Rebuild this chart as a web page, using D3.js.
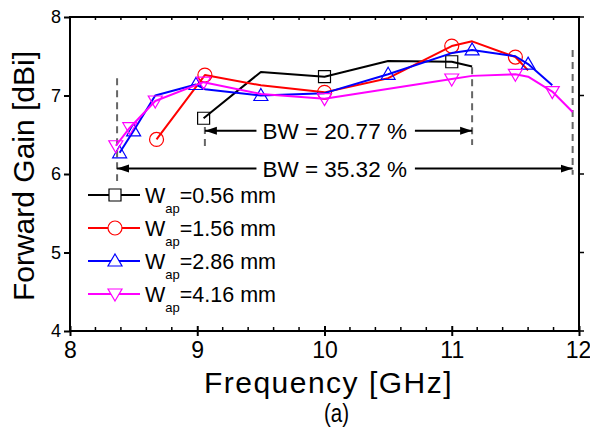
<!DOCTYPE html>
<html>
<head>
<meta charset="utf-8">
<script src="https://cdn.jsdelivr.net/npm/d3@7"></script>
<style>
  body { margin: 0; background: #fff; }
  text { font-family: "Liberation Sans", Arial, sans-serif; }
</style>
</head>
<body>
<div id="chart"></div>
<script>
// values
var freqAxisTicks = [8, 9, 10, 11, 12];
var gainAxisTicks = [4, 5, 6, 7, 8];

var seriesNames = ["0.56 mm", "1.56 mm", "2.86 mm", "4.16 mm"];

var freq056 = [9.05, 9.5, 10, 10.5, 11, 11.16];
var gain056 = [6.71, 7.30, 7.24, 7.44, 7.43, 7.37];
var mark056 = [0, 2, 4];

var freq156 = [8.68, 9.06, 9.5, 10, 10.5, 11, 11.16, 11.5, 11.6];
var gain156 = [6.44, 7.26, 7.13, 7.04, 7.22, 7.63, 7.69, 7.49, 7.32];
var mark156 = [0, 1, 3, 5, 7];

var freq286 = [8.39, 8.5, 8.67, 8.99, 9.06, 9.5, 10, 10.5, 11, 11.16, 11.5, 11.6, 11.79];
var gain286 = [6.27, 6.55, 7.0, 7.14, 7.08, 7.0, 7.03, 7.27, 7.54, 7.58, 7.50, 7.40, 7.13];
var mark286 = [0, 1, 3, 5, 7, 9, 11];

var freq416 = [8.36, 8.47, 8.67, 9.05, 9.5, 10, 11, 11.16, 11.5, 11.6, 11.79, 11.95];
var gain416 = [6.36, 6.59, 6.93, 7.17, 7.02, 6.96, 7.21, 7.25, 7.27, 7.24, 7.05, 6.79];
var mark416 = [0, 1, 2, 3, 5, 6, 8, 10];

// bandwidth annotations
var bwLabels = ["BW = 20.77 %", "BW = 35.32 %"];
var bwStart = [9.06, 8.37];
var bwEnd = [11.16, 11.95];
var bwGain = [6.55, 6.07];
// dashed guide lines: frequency, top gain, bottom gain
var guideFreq = [8.37, 9.06, 11.16, 11.95];
var guideTop = [7.22, 6.60, 7.36, 7.58];
var guideBottom = [5.91, 6.30, 6.37, 5.99];

var W = 590, H = 434;
var margin = {top: 17, right: 11, bottom: 103, left: 70};
var width = W - margin.left - margin.right,
    height = H - margin.top - margin.bottom;

var x = d3.scaleLinear().domain([8, 12]).range([0, width]);
var y = d3.scaleLinear().domain([4, 8]).range([height, 0]);

var svg = d3.select("#chart").append("svg")
    .attr("width", W).attr("height", H)
  .append("g")
    .attr("transform", "translate(" + margin.left + "," + margin.top + ")");

// frame
svg.append("rect")
    .attr("width", width).attr("height", height)
    .attr("fill", "none").attr("stroke", "#000").attr("stroke-width", 2);

// bottom axis: major ticks + minor ticks inside
var xMinor = d3.range(8, 12.001, 0.2).filter(function(v) { return Math.abs(v - Math.round(v)) > 0.01; });
var xAxis = d3.axisBottom(x).tickValues(freqAxisTicks).tickSize(5).tickPadding(6).tickFormat(d3.format("d"));
var gx = svg.append("g").attr("transform", "translate(0," + height + ")").call(xAxis);
gx.select(".domain").remove();
gx.selectAll(".tick line").attr("stroke-width", 2).attr("y1", -5);
gx.selectAll(".tick text").style("font-size", "23px").attr("fill", "#000")
    .attr("dx", function(d) { return d === 12 ? -1 : 0; });
svg.append("g").selectAll("line").data(xMinor).join("line")
    .attr("x1", x).attr("x2", x).attr("y1", height).attr("y2", height - 4)
    .attr("stroke", "#000").attr("stroke-width", 1.5);

// top axis mirror ticks
svg.append("g").selectAll("line").data(xMinor.concat(freqAxisTicks)).join("line")
    .attr("x1", x).attr("x2", x).attr("y1", 0).attr("y2", 3)
    .attr("stroke", "#000").attr("stroke-width", 1.5);

// left axis
var yAxis = d3.axisLeft(y).tickValues(gainAxisTicks).tickSize(6).tickPadding(3).tickFormat(d3.format("d"));
var gy = svg.append("g").call(yAxis);
gy.select(".domain").remove();
gy.selectAll(".tick line").attr("stroke-width", 2);
gy.selectAll(".tick text").style("font-size", "18px").attr("fill", "#000");

// right axis mirror ticks
svg.append("g").selectAll("line").data(gainAxisTicks).join("line")
    .attr("x1", width).attr("x2", width + 5).attr("y1", y).attr("y2", y)
    .attr("stroke", "#000").attr("stroke-width", 1.5);

// axis titles
svg.append("text")
    .attr("x", width / 2 + 4).attr("y", height + 62)
    .attr("text-anchor", "middle")
    .style("font-size", "30px").style("letter-spacing", "1.5px")
    .text("Frequency [GHz]");

svg.append("text")
    .attr("transform", "translate(" + (-36) + "," + (height / 2 + 2) + ") rotate(-90)")
    .attr("text-anchor", "middle")
    .style("font-size", "30px")
    .text("Forward Gain [dBi]");

svg.append("text")
    .attr("x", width / 2 + 12).attr("y", height + 91)
    .attr("text-anchor", "middle")
    .style("font-size", "25px")
    .attr("transform", "translate(" + (width / 2 + 12) + ",0) scale(0.82,1) translate(" + (-(width / 2 + 12)) + ",0)")
    .text("(a)");

// dashed guides
svg.append("g").selectAll("line").data(guideFreq).join("line")
    .attr("x1", function(d) { return x(d); }).attr("x2", function(d) { return x(d); })
    .attr("y1", function(d, i) { return y(guideTop[i]); })
    .attr("y2", function(d, i) { return y(guideBottom[i]); })
    .attr("stroke", "#666").attr("stroke-width", 2).attr("stroke-dasharray", "7,5");

// arrow marker
var defs = d3.select("svg").append("defs");
defs.append("marker").attr("id", "arrow")
    .attr("viewBox", "0 0 12 10").attr("refX", 12).attr("refY", 5)
    .attr("markerWidth", 12).attr("markerHeight", 10)
    .attr("markerUnits", "userSpaceOnUse")
    .attr("orient", "auto")
  .append("path").attr("d", "M0,1 L12,5 L0,9 Z").attr("fill", "#000");

var labelCx = x(10.08);
bwLabels.forEach(function(lab, i) {
  var yy = y(bwGain[i]);
  var t = svg.append("text")
      .attr("x", labelCx).attr("y", yy).attr("dy", "0.36em")
      .attr("text-anchor", "middle")
      .style("font-size", "22.5px")
      .text(lab);
  var bb = t.node().getBBox();
  svg.append("line")
      .attr("x1", bb.x - 6).attr("x2", x(bwStart[i]))
      .attr("y1", yy).attr("y2", yy)
      .attr("stroke", "#000").attr("stroke-width", 2)
      .attr("marker-end", "url(#arrow)");
  svg.append("line")
      .attr("x1", bb.x + bb.width + 8).attr("x2", x(bwEnd[i]))
      .attr("y1", yy).attr("y2", yy)
      .attr("stroke", "#000").attr("stroke-width", 2)
      .attr("marker-end", "url(#arrow)");
});

// series
var colors = ["#000000", "#ff0000", "#0000ff", "#ff00ff"];
var symbols = ["square", "circle", "up", "down"];
var freqs = [freq056, freq156, freq286, freq416];
var gains = [gain056, gain156, gain286, gain416];
var marks = [mark056, mark156, mark286, mark416];

function markerPath(kind) {
  if (kind === "square") return "M-6,-6H6V6H-6Z";
  if (kind === "circle") return "M-7,0A7,7 0 1,0 7,0A7,7 0 1,0 -7,0Z";
  if (kind === "up") return "M0,-7L7,5H-7Z";
  return "M0,7L7,-5H-7Z";
}

var line = d3.line().x(function(d) { return x(d[0]); }).y(function(d) { return y(d[1]); });

freqs.forEach(function(fr, s) {
  var pts = fr.map(function(f, i) { return [f, gains[s][i]]; });
  svg.append("path").datum(pts)
      .attr("d", line)
      .attr("fill", "none").attr("stroke", colors[s]).attr("stroke-width", 2)
      .attr("stroke-linejoin", "round");
  svg.append("g").selectAll("path")
      .data(marks[s].map(function(k) { return pts[k]; }))
    .join("path")
      .attr("transform", function(d) { return "translate(" + x(d[0]) + "," + y(d[1]) + ")"; })
      .attr("d", markerPath(symbols[s]))
      .attr("fill", "none").attr("stroke", colors[s]).attr("stroke-width", 1.2);
});

// legend
var legend = svg.append("g").attr("transform", "translate(18,178)");
seriesNames.forEach(function(name, i) {
  var g = legend.append("g").attr("transform", "translate(0," + (i * 33) + ")");
  g.append("line").attr("x1", 0).attr("x2", 52).attr("y1", 0).attr("y2", 0)
      .attr("stroke", colors[i]).attr("stroke-width", 2);
  g.append("path").attr("transform", "translate(27,0)")
      .attr("d", markerPath(symbols[i]))
      .attr("fill", "#fff").attr("stroke", colors[i]).attr("stroke-width", 1.2);
  var t = g.append("text").attr("x", 57).attr("y", 0).attr("dy", "0.36em")
      .style("font-size", "21.5px");
  t.append("tspan").text("W");
  t.append("tspan").attr("dy", "10").style("font-size", "13px").text("ap");
  t.append("tspan").attr("dy", "-10").text("=" + name);
});
</script>
</body>
</html>
